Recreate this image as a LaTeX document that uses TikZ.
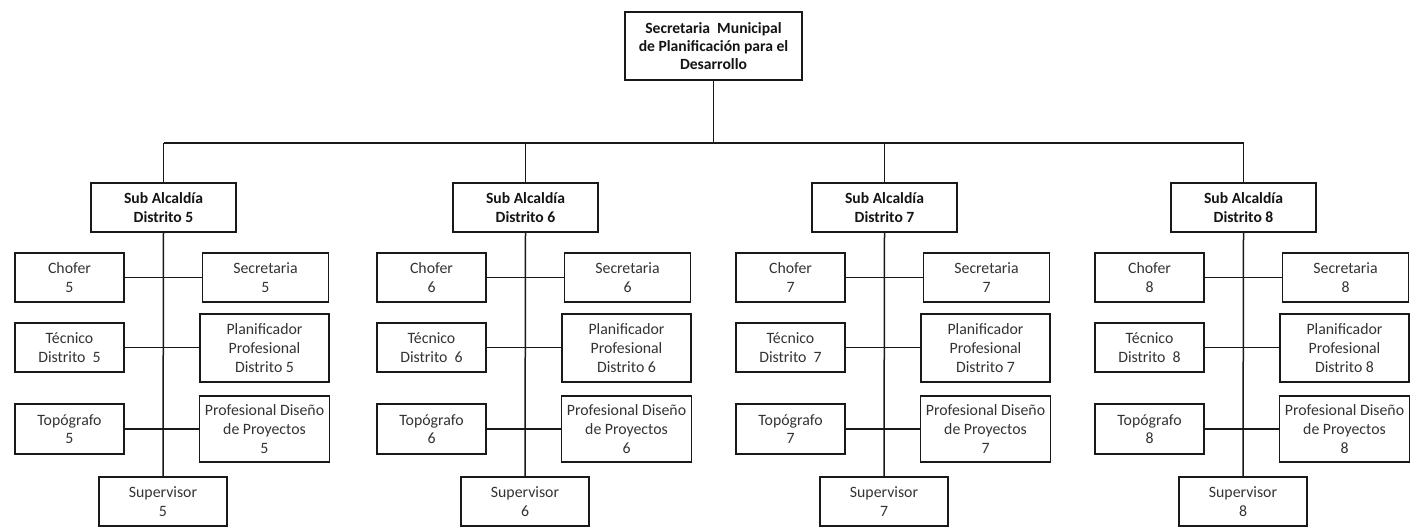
\documentclass[tikz,border=0pt]{standalone}
\usepackage{fontspec}
\setmainfont{Carlito}
\begin{document}
\begin{tikzpicture}[x=1pt,y=-1pt,
  box/.style={draw=black!90, line width=1.5pt, fill=white, align=center, inner sep=0pt,
    text=black!80, font=\fontsize{15.8pt}{18.6pt}\selectfont},
  bbox/.style={box, text=black!92, font=\bfseries\fontsize{15.6pt}{18.4pt}\selectfont},
  conn/.style={draw=black!90, line width=1.5pt}]
\useasboundingbox (0,0) rectangle (1419,527);
\fill[white] (0,0) rectangle (1419,527);
\node[bbox, minimum width=177pt, minimum height=68pt] (top) at (713.5,46)
  {Secretaria\ \ Municipal\\de Planificación para el\\Desarrollo};
\coordinate (bus) at (714,143);
\foreach \i/\c in {5/163,6/525,7/884,8/1243}{
  \node[bbox, minimum width=145pt, minimum height=49pt] (sub\i) at (\c+0.5,207.5) {Sub Alcaldía\\Distrito \i};
  \node[box, minimum width=109pt, minimum height=49pt] (chofer\i) at (\c-93.5,277.5) {Chofer\\\i};
  \node[box, minimum width=126pt, minimum height=49pt] (secre\i) at (\c+102.5,277.5) {Secretaria\\\i};
  \node[box, minimum width=109pt, minimum height=49pt] (tec\i) at (\c-93.5,347.5) {Técnico\\Distrito\ \ \i};
  \node[box, minimum width=129pt, minimum height=68pt] (plan\i) at (\c+101.5,348) {Planificador\\Profesional\\Distrito \i};
  \node[box, minimum width=109pt, minimum height=50pt] (topo\i) at (\c-93.5,429) {Topógrafo\\\i};
  \node[box, minimum width=130pt, minimum height=66pt] (prof\i) at (\c+101.5,429) {Profesional Diseño\\de Proyectos\\\i};
  \node[box, minimum width=128pt, minimum height=49pt] (sup\i) at (\c,501.5) {Supervisor\\\i};
}
\draw[conn] (top.south) -- (top.south |- bus);
\draw[conn] (sub5.north |- bus) -- (sub8.north |- bus);
\foreach \i in {5,6,7,8}{
  \draw[conn] (sub\i.north |- bus) -- (sub\i.north);
  \draw[conn] (sub\i.south) -- (sup\i.north);
  \draw[conn] (chofer\i.east) -- (secre\i.west);
  \draw[conn] (tec\i.east) -- (tec\i.east -| plan\i.west);
  \draw[conn] (topo\i.east) -- (topo\i.east -| prof\i.west);
}
\end{tikzpicture}
\end{document}
